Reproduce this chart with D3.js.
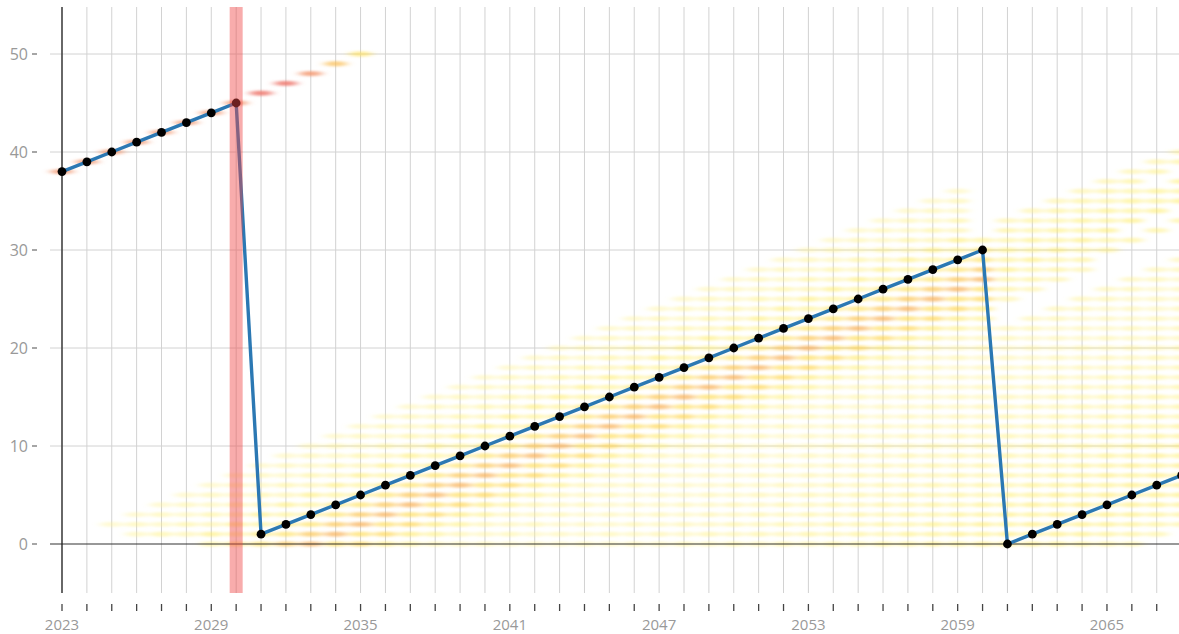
<!DOCTYPE html>
<html>
<head>
<meta charset="utf-8">
<script src="https://cdn.jsdelivr.net/npm/d3@7"></script>
<style>
  html, body { margin: 0; padding: 0; background: #fff; }
  svg { display: block; font-family: "Open Sans", "DejaVu Sans", sans-serif; }
</style>
</head>
<body>
<svg id="chart" width="1179" height="634"></svg>
<script>
// ---- data ----
const lineYears  = [2023,2024,2025,2026,2027,2028,2029,2030,2031,2032,2033,2034,2035,2036,2037,2038,2039,2040,2041,2042,2043,2044,2045,2046,2047,2048,2049,2050,2051,2052,2053,2054,2055,2056,2057,2058,2059,2060,2061,2062,2063,2064,2065,2066,2067,2068];
const lineValues = [38,39,40,41,42,43,44,45,1,2,3,4,5,6,7,8,9,10,11,12,13,14,15,16,17,18,19,20,21,22,23,24,25,26,27,28,29,30,0,1,2,3,4,5,6,7];

const xTickLabels = [2023,2029,2035,2041,2047,2053,2059,2065];
const yTickValues = [0,10,20,30,40,50];
const eventYear = 2030;

// heat-map cohorts: each diagonal starts at value 0 in cohortStart year,
// visible between cohortFrom and cohortTo, with a density weight
const cohortStart  = [1985,1985,1985,1985,1985,
  2023,2024,2025,2026,2027,2028,2029,2030,2031,2032,2033,2034,2035,2036,2037,2038,
  2028,2029,2030,2031,2032,2033,2034,2035,2036,
  2039,2040,2041,2042,2043,2044,2045,2046,2047,2048,2049,2050,2051,2052,2053,2054,2055,2056,2057,2058,2059,2060,2061,2062,2063,2064,2065,2066];
const cohortFrom   = [2023,2031,2033,2034,2035,
  2025,2026,2026,2027,2028,2029,2029,2030,2031,2032,2033,2034,2035,2036,2037,2038,
  2061,2061,2061,2061,2061,2061,2061,2061,2061,
  2039,2040,2041,2042,2043,2044,2045,2046,2047,2048,2049,2050,2051,2052,2053,2054,2055,2056,2057,2058,2059,2060,2061,2062,2063,2064,2065,2066];
const cohortTo     = [2030,2032,2033,2034,2035,
  2059,2059,2059,2059,2059,2059,2060,2060,2060,2060,2060,2060,2060,2060,2060,2060,
  2068,2068,2066,2068,2068,2068,2065,2068,2064,
  2068,2068,2068,2068,2068,2068,2068,2068,2068,2068,2068,2068,2068,2068,2068,2068,2068,2068,2068,2068,2068,2068,2068,2068,2068,2068,2068,2068];
const cohortWeight = [0.8,0.92,0.8,0.65,0.45,
  0.08,0.14,0.1,0.2,0.16,0.3,0.24,0.4,0.46,0.62,0.7,0.5,0.56,0.36,0.26,0.16,
  0.16,0.22,0.2,0.28,0.24,0.3,0.2,0.22,0.16,
  0.12,0.15,0.08,0.12,0.09,0.14,0.1,0.16,0.12,0.18,0.14,0.2,0.16,0.22,0.18,0.24,0.2,0.28,0.26,0.32,0.28,0.34,0.36,0.32,0.3,0.26,0.24,0.2];

// ---- layout ----
const svg = d3.select("#chart");
const W = 1179, H = 634;
const x = d3.scaleLinear().domain([2023, 2068]).range([62, 62 + 45 * 24.88]);
const y = d3.scaleLinear().domain([-5, 55]).range([593, 5]);
const plotTop = 7, plotBottom = 593;

const color = d3.scaleLinear()
  .domain([0, 0.3, 0.55, 0.72, 0.85, 1])
  .range(["#fff49a", "#ffeb55", "#ffd444", "#f7aa55", "#f08070", "#ec6a6a"])
  .clamp(true);

const defs = svg.append("defs");
defs.append("filter").attr("id", "blur")
  .attr("filterUnits", "userSpaceOnUse")
  .attr("x", 0).attr("y", 0).attr("width", W).attr("height", H)
  .append("feGaussianBlur").attr("stdDeviation", "4.2 1.3");

// vertical grid
svg.append("g").selectAll("line").data(lineYears).join("line")
  .attr("x1", d => x(d)).attr("x2", d => x(d))
  .attr("y1", plotTop).attr("y2", plotBottom)
  .attr("stroke", "#d2d2d2").attr("stroke-width", 1);

// horizontal grid
svg.append("g").selectAll("line").data(yTickValues.filter(v => v !== 0)).join("line")
  .attr("x1", 50).attr("x2", W)
  .attr("y1", d => y(d)).attr("y2", d => y(d))
  .attr("stroke", "#d2d2d2").attr("stroke-width", 1);

// heat map cells
const cells = [];
cohortStart.forEach((s, i) => {
  for (let yr = cohortFrom[i]; yr <= cohortTo[i]; yr++) {
    cells.push({ year: yr, value: yr - s, w: cohortWeight[i] });
  }
});
svg.append("g").attr("filter", "url(#blur)")
  .selectAll("ellipse").data(cells).join("ellipse")
  .attr("cx", d => x(d.year)).attr("cy", d => y(d.value))
  .attr("rx", 11.5).attr("ry", 2.7)
  .attr("fill", d => color(d.w))
  .attr("fill-opacity", d => 0.32 + 0.55 * d.w);

// zero line and y axis line
svg.append("line").attr("x1", 50).attr("x2", W)
  .attr("y1", y(0)).attr("y2", y(0)).attr("stroke", "#333").attr("stroke-width", 1.2);
svg.append("line").attr("x1", x(2023)).attr("x2", x(2023))
  .attr("y1", plotTop).attr("y2", plotBottom).attr("stroke", "#222").attr("stroke-width", 1.3);

// y ticks
const yt = svg.append("g").selectAll("g").data(yTickValues).join("g")
  .attr("transform", d => `translate(0,${y(d)})`);
yt.append("line").attr("x1", 32).attr("x2", 37).attr("stroke", "#888").attr("stroke-width", 1.5);
yt.append("text").attr("x", 28).attr("dy", "0.35em").attr("text-anchor", "end")
  .attr("fill", "#999").attr("font-size", 16).text(d => d);

// x ticks
svg.append("g").selectAll("line").data(lineYears).join("line")
  .attr("x1", d => x(d)).attr("x2", d => x(d))
  .attr("y1", 604).attr("y2", 611)
  .attr("stroke", "#444").attr("stroke-width", 1.3);
svg.append("g").selectAll("text").data(xTickLabels).join("text")
  .attr("x", d => x(d)).attr("y", 630).attr("text-anchor", "middle")
  .attr("fill", "#999").attr("font-size", 15).text(d => d);

// line
const pts = lineYears.map((yr, i) => ({ year: yr, value: lineValues[i] }));
svg.append("path").datum(pts)
  .attr("d", d3.line().x(d => x(d.year)).y(d => y(d.value)))
  .attr("fill", "none").attr("stroke", "#2b78b3").attr("stroke-width", 3.4)
  .attr("stroke-linejoin", "round");
svg.append("g").selectAll("circle").data(pts).join("circle")
  .attr("cx", d => x(d.year)).attr("cy", d => y(d.value)).attr("r", 4.4)
  .attr("fill", "#000");

// event band
svg.append("rect")
  .attr("x", x(eventYear) - 6.5).attr("width", 13)
  .attr("y", plotTop).attr("height", plotBottom - plotTop)
  .attr("fill", "rgb(240,70,70)").attr("fill-opacity", 0.45);
</script>
</body>
</html>
